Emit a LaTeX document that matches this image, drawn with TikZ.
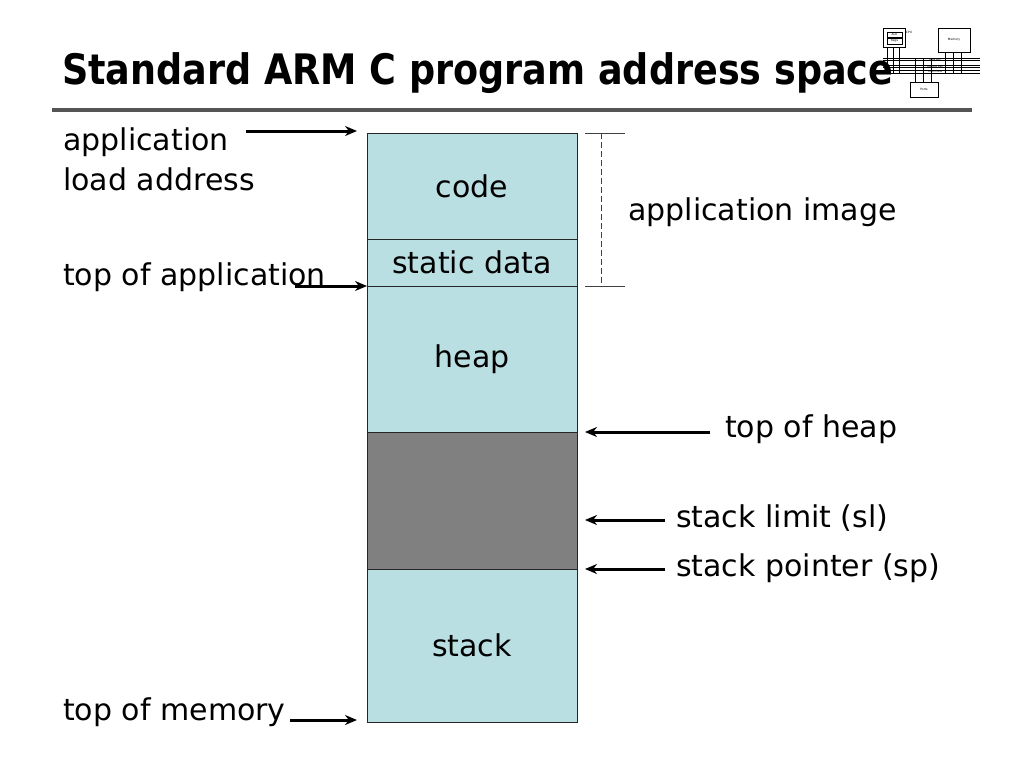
\documentclass[tikz,border=0pt]{standalone}
\usepackage{fontspec}
\setmainfont{DejaVu Sans}
\usetikzlibrary{positioning,arrows.meta}
\definecolor{segblue}{RGB}{185,223,227}
\definecolor{seggray}{RGB}{128,128,128}
\definecolor{barGray}{RGB}{85,85,85}

\begin{document}
\begin{tikzpicture}[x=1pt, y=-1pt,
	seg/.style={draw=black!85, line width=1pt, fill=segblue, minimum width=210pt, inner sep=0pt, outer sep=0pt, font=\fontsize{30}{36}\selectfont},
	lbl/.style={inner sep=0pt, font=\fontsize{30}{36}\selectfont},
	ptr/.style={line width=3pt, -{Stealth[length=12pt, width=10pt]}},
	logobox/.style={draw, line width=0.4pt, inner sep=0pt, outer sep=0pt, font=\fontsize{3}{3}\selectfont}]
			%%%%% START %%%%%
			\useasboundingbox (0,0) rectangle (1024,768);
			
			% logo
			\node[logobox, minimum width=22pt, minimum height=19pt] (cpu) at (894,37.5) {};
			\node[logobox, minimum width=15pt, minimum height=5pt] (alu) at (894.5,34.5) {ALU};
			\node[logobox, minimum width=15pt, minimum height=6pt] (regs) at (894.5,41) {Regs};
			\node[font=\fontsize{3}{3}\selectfont, inner sep=0pt] at (909,32) {CPU};
			\node[logobox, minimum width=32pt, minimum height=24pt] (mem) at (954,40) {Memory};
			\node[logobox, minimum width=28pt, minimum height=15pt] (ports) at (924,89.5) {Ports};
			\foreach \y/\t in {58/Data Bus, 65/Address Bus, 70.5/Control Bus} {
				\draw[line width=0.3pt] (883,\y) -- (980,\y);
				\draw[line width=0.3pt] (883,\y+2.5) -- (980,\y+2.5);
				\node[font=\fontsize{2.5}{3}\selectfont, inner sep=0pt] at (935,\y+1.25) {\t};
			}
			\foreach \x in {887,893,899} \draw[line width=0.3pt] (\x,47) -- (\x,73);
			\foreach \x in {945,953,961} \draw[line width=0.3pt] (\x,52) -- (\x,73);
			\foreach \x in {915,923,931} \draw[line width=0.3pt] (\x,58) -- (\x,82);
			
			% title
			\node[anchor=base west, inner sep=0pt, font=\fontsize{42}{50}\selectfont\bfseries] (title) at (62,84) {\scalebox{0.87}[1]{Standard ARM C program address space}};
			\draw[line width=4pt, color=barGray] (52,110) -- (972,110);
			
			% memory map
			\node[seg, minimum height=106pt, anchor=north] (code) at (472,133) {code};
			\node[seg, minimum height=47pt, below=0pt of code] (static) {static data};
			\node[seg, minimum height=146pt, below=0pt of static] (heap) {heap};
			\node[seg, minimum height=137pt, fill=seggray, below=0pt of heap] (free) {};
			\node[seg, minimum height=153pt, below=0pt of free] (stack) {stack};
			
			% left labels
			\node[lbl, anchor=base west] (loadA) at (63,150) {application};
			\node[lbl, anchor=base west] (loadB) at (63,190) {load address};
			\node[lbl, anchor=base west] (topapp) at (63,285) {top of application};
			\node[lbl, anchor=base west] (topmem) at (63,720) {top of memory};
			
			\coordinate (loadS) at (246,131);
			\coordinate (loadE) at (357,131);
			\coordinate (topappS) at (295,286);
			\coordinate (topmemS) at (290,720);
			\coordinate (topmemE) at (357,720);
			\draw[ptr] (loadS) -- (loadE);
			\draw[ptr] (topappS) -- (static.south west);
			\draw[ptr] (topmemS) -- (topmemE);
			
			% right labels
			\node[lbl, anchor=base west] (appimg) at (628,220) {application image};
			\node[lbl, anchor=base west] (topheap) at (725,437) {top of heap};
			\node[lbl, anchor=base west] (sl) at (676,527) {stack limit (sl)};
			\node[lbl, anchor=base west] (sp) at (676,576) {stack pointer (sp)};
			
			\coordinate (topheapS) at (710,432);
			\coordinate (slS) at (665,520);
			\coordinate (slE) at (585,520);
			\coordinate (spS) at (665,569);
			\draw[ptr] (topheapS) -- ([xshift=8pt]heap.south east);
			\draw[ptr] (slS) -- (slE);
			\draw[ptr] (spS) -- ([xshift=8pt]free.south east);
			
			% image extent
			\coordinate (imgT) at (601,133);
			\coordinate (imgB) at (601,286);
			\draw[line width=1pt, black!75] ([xshift=-16pt]imgT) -- ([xshift=24pt]imgT);
			\draw[line width=1pt, black!75] ([xshift=-16pt]imgB) -- ([xshift=24pt]imgB);
			\draw[line width=1pt, black!75, dash pattern=on 6pt off 3pt] (imgT) -- (imgB);
			
			%%%%% END %%%%%
\end{tikzpicture}
\end{document}
